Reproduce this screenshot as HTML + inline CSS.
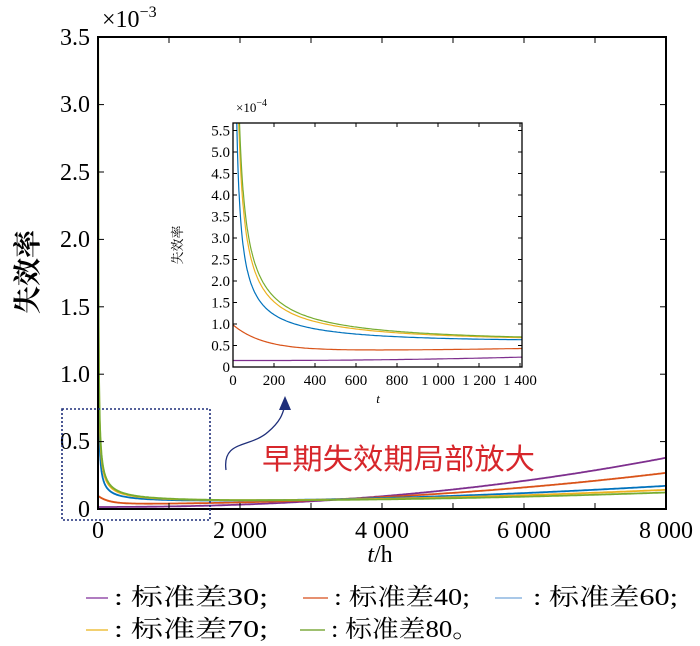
<!DOCTYPE html>
<html><head><meta charset="utf-8"><style>
html,body{margin:0;padding:0;background:#fff}
svg{display:block}
text{font-family:"Liberation Serif","Noto Serif CJK SC",serif}
.cj{font-family:"Liberation Serif","Noto Serif CJK SC",serif}
.cs{font-family:"Liberation Sans","Noto Sans CJK SC",sans-serif}
</style></head><body>
<svg id="s" width="700" height="646" viewBox="0 0 700 646" xmlns="http://www.w3.org/2000/svg">
<defs>
<clipPath id="cm"><rect x="98" y="37" width="568" height="472"/></clipPath>
<clipPath id="ci"><rect x="233" y="123" width="289" height="244"/></clipPath>
</defs>
<g id="main"></g>
<rect x="98" y="37" width="568" height="472" fill="none" stroke="#000" stroke-width="2"/>
<g font-size="24" text-anchor="end">
<text x="90" y="45">3.5</text><text x="90" y="112">3.0</text><text x="90" y="180">2.5</text>
<text x="90" y="247">2.0</text><text x="90" y="315">1.5</text><text x="90" y="382">1.0</text>
<text x="90" y="449">0.5</text><text x="90" y="517">0</text>
</g>
<text x="102" y="27" font-size="24">×10<tspan dy="-10" font-size="16">−3</tspan></text>
<g font-size="24" text-anchor="middle">
<text x="98" y="538">0</text><text x="240" y="538">2 000</text><text x="382" y="538">4 000</text>
<text x="524" y="538">6 000</text><text x="666" y="538">8 000</text>
</g>
<text x="380" y="562" font-size="24" text-anchor="middle"><tspan font-style="italic">t</tspan>/h</text>
<text class="cj" transform="translate(37,272) rotate(-90)" font-size="28" text-anchor="middle" font-weight="bold">失效率</text>
<rect x="62" y="409" width="148" height="111" fill="none" stroke="#1f2f7a" stroke-width="1.6" stroke-dasharray="2,2"/>
<path d="M226,470 C222,440 250,448 268,432 C282,420 283,412 285,405" fill="none" stroke="#1f2f7a" stroke-width="1.3"/>
<path d="M285,396 L279,410 L291,410 Z" fill="#1f2f7a"/>
<text class="cs" x="262" y="469" font-size="29" fill="#d7262b" textLength="273" lengthAdjust="spacingAndGlyphs">早期失效期局部放大</text>
<rect x="233" y="123" width="289" height="244" fill="#fff"/>
<g id="ins"></g>
<rect x="233" y="123" width="289" height="244" fill="none" stroke="#000" stroke-width="1.3"/>
<g font-size="15" text-anchor="end" id="iy"></g>
<g font-size="15" text-anchor="middle" id="ix"></g>
<text x="236" y="112" font-size="13">×10<tspan dy="-6" font-size="10">−4</tspan></text>
<text x="378" y="403" font-size="13" font-style="italic" text-anchor="middle">t</text>
<text class="cj" transform="translate(182,245) rotate(-90)" font-size="13" text-anchor="middle">失效率</text>
<g class="cj" font-size="24">
<line x1="86" y1="598" x2="108" y2="598" stroke="#b07cc0" stroke-width="2"/><text x="114" y="605" textLength="154" lengthAdjust="spacingAndGlyphs">: 标准差30;</text>
<line x1="303" y1="598" x2="328" y2="598" stroke="#e69070" stroke-width="2"/><text x="334" y="605" textLength="136" lengthAdjust="spacingAndGlyphs">: 标准差40;</text>
<line x1="495" y1="598" x2="522" y2="598" stroke="#a9c8e8" stroke-width="2"/><text x="533" y="605" textLength="145" lengthAdjust="spacingAndGlyphs">: 标准差60;</text>
<line x1="86" y1="630" x2="108" y2="630" stroke="#f2d070" stroke-width="2"/><text x="114" y="637" textLength="154" lengthAdjust="spacingAndGlyphs">: 标准差70;</text>
<line x1="300" y1="630" x2="325" y2="630" stroke="#9fc070" stroke-width="2"/><text x="331" y="637" textLength="148" lengthAdjust="spacingAndGlyphs">: 标准差80。</text>
</g>
</svg>
<script>
var NS="http://www.w3.org/2000/svg";
function el(p,t,a){var e=document.createElementNS(NS,t);for(var k in a)e.setAttribute(k,a[k]);p.appendChild(e);return e;}
var S=[
 {c:"#7e2f8e",A:0,b:0.015,k:0.365,m:2.2,o:0},
 {c:"#d95319",A:0,b:0.038,k:0.23,m:2.2,o:0.06},
 {c:"#0072bd",A:5.4,b:0.045,k:0.125,m:2,o:0},
 {c:"#edb120",A:7.5,b:0.045,k:0.095,m:2,o:0},
 {c:"#77ac30",A:8.3,b:0.045,k:0.075,m:2,o:0}];
function r(s,t){var x=t/8000;var v=s.b+s.k*Math.pow(x,s.m)+s.o*Math.exp(-t/150);
 if(s.A>0){v+=s.A*Math.pow(Math.max(t,1),-0.8)*(1-0.6*x);}return v;}
var m=document.getElementById("main"),g=el(m,"g",{"clip-path":"url(#cm)"});
var ii=document.getElementById("ins"),gi=el(ii,"g",{"clip-path":"url(#ci)"});
S.forEach(function(s){
 var d="";for(var t=0;t<=8000;t+=(t<300?2:20)){var y=509-r(s,t)*134.8;y=Math.max(y,20);d+=(d?"L":"M")+(98+t*0.071).toFixed(1)+","+y.toFixed(1);}
 el(g,"path",{d:d,fill:"none",stroke:s.c,"stroke-width":1.8});
 d="";for(var t=0;t<=1420;t+=(t<200?1:10)){var y=367-r(s,t)*10*43;y=Math.max(y,100);d+=(d?"L":"M")+(233+t*0.205).toFixed(1)+","+y.toFixed(1);}
 el(gi,"path",{d:d,fill:"none",stroke:s.c,"stroke-width":1.2});
});
for(var i=1;i<8;i++){var x=98+i*71;el(m,"line",{x1:x,y1:509,x2:x,y2:503,stroke:"#000"});el(m,"line",{x1:x,y1:37,x2:x,y2:43,stroke:"#000"});}
for(var i=1;i<7;i++){var y=509-i*67.4;el(m,"line",{x1:98,y1:y,x2:104,y2:y,stroke:"#000"});el(m,"line",{x1:666,y1:y,x2:660,y2:y,stroke:"#000"});}
var iy=document.getElementById("iy"),ix=document.getElementById("ix");
var labs=["0","0.5","1.0","1.5","2.0","2.5","3.0","3.5","4.0","4.5","5.0","5.5"];
for(var i=0;i<12;i++){var y=367-i*21.5;el(iy,"text",{x:230,y:y+5}).textContent=labs[i];
 if(i>0){el(ii,"line",{x1:233,y1:y,x2:237,y2:y,stroke:"#000"});el(ii,"line",{x1:522,y1:y,x2:518,y2:y,stroke:"#000"});}}
var xl=["0","200","400","600","800","1 000","1 200","1 400"];
for(var i=0;i<8;i++){var x=233+i*41;el(ix,"text",{x:x,y:385}).textContent=xl[i];
 if(i>0){el(ii,"line",{x1:x,y1:367,x2:x,y2:363,stroke:"#000"});el(ii,"line",{x1:x,y1:123,x2:x,y2:127,stroke:"#000"});}}
</script>
</body></html>
